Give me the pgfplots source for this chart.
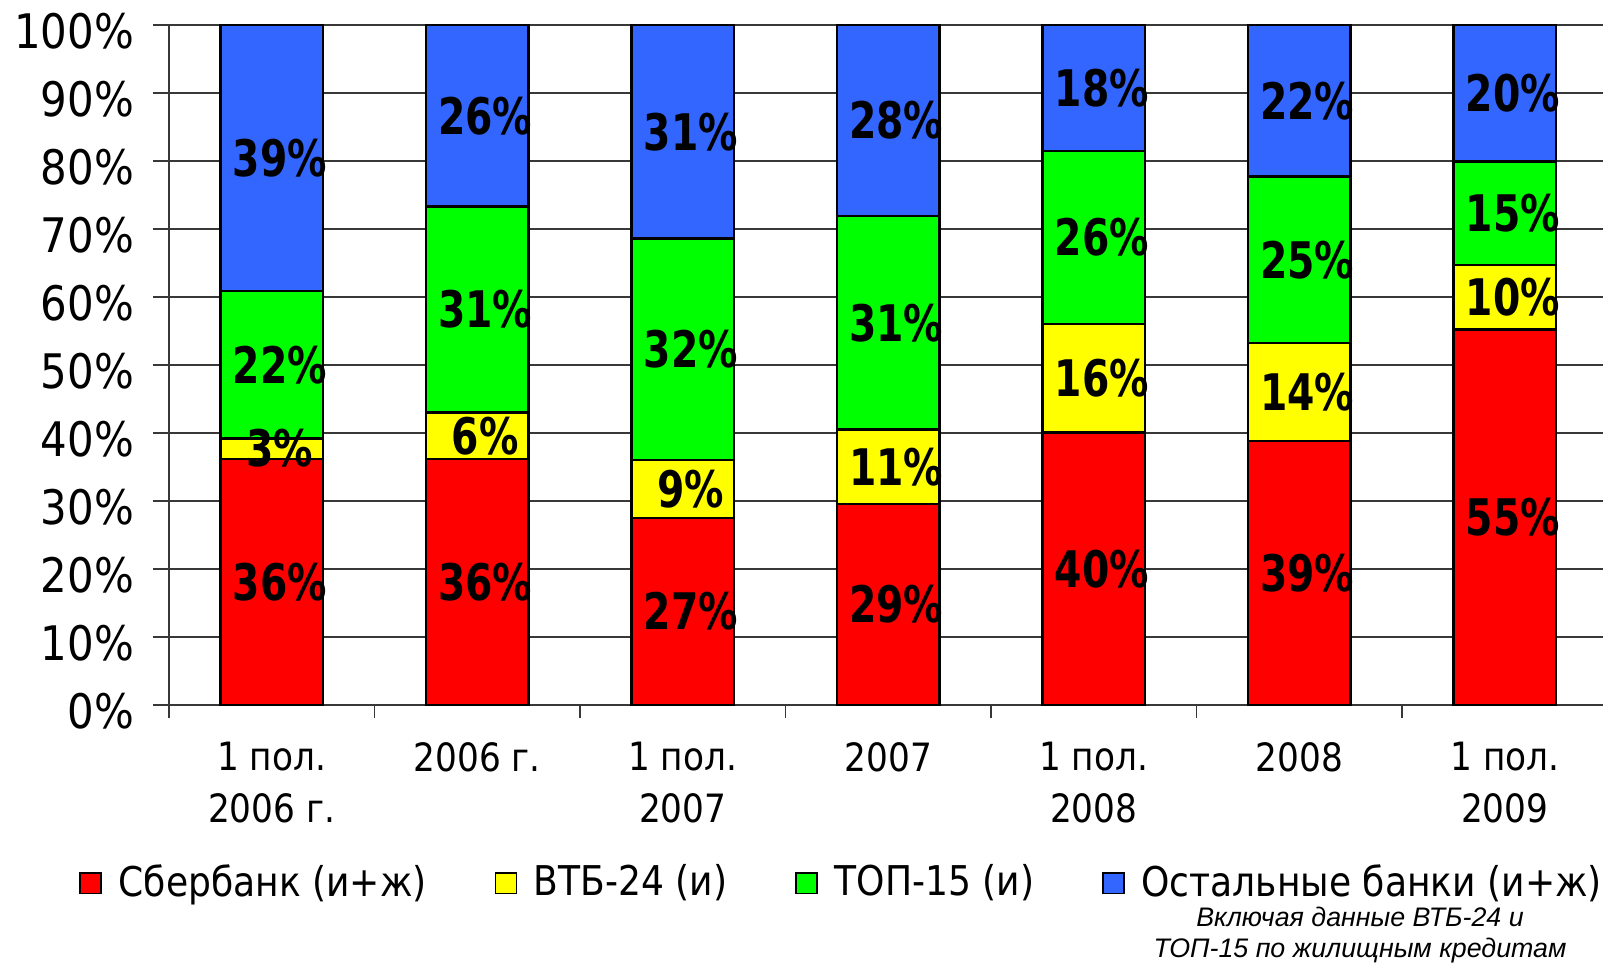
\documentclass[border=0pt]{standalone}
\usepackage{fontspec}
\setmainfont{DejaVu Sans}[FakeStretch=0.88]
\newfontfamily\barfont{DejaVu Sans}[FakeStretch=0.78]
\newfontfamily\notefont{Liberation Sans}
\usepackage{pgfplots}
\pgfplotsset{compat=1.18}
\definecolor{sber}{HTML}{FF0000}
\definecolor{vtb}{HTML}{FFFF00}
\definecolor{topf}{HTML}{00FF00}
\definecolor{rest}{HTML}{3366FF}
\definecolor{gridc}{HTML}{383838}
% 1 px of the reference = 0.25pt
\pgfplotsset{
  basebox/.style={
    scale only axis, width=358.5pt, height=170pt,
    xmin=-0.5, xmax=6.478, ymin=0, ymax=100,
    at={(42.25pt,-6.25pt)}, anchor=north west,
  },
}

\begin{document}
\begin{tikzpicture}
\begin{axis}[basebox,
  ybar stacked, bar width=0.5,
  axis x line*=bottom, axis y line*=left,
  axis line style={-, gridc, line width=0.4pt},
  ytick={0,10,...,100},
  yticklabels={0\%,10\%,20\%,30\%,40\%,50\%,60\%,70\%,80\%,90\%,100\%},
  ymajorgrids, grid style={gridc, line width=0.35pt},
  xtick={0,...,6},
  xticklabels={{1 пол.\\2006 г.},{2006 г.},{1 пол.\\2007},{2007},{1 пол.\\2008},{2008},{1 пол.\\2009}},
  minor xtick={-0.5,0.5,...,5.5},
  tick align=outside,
  major tick length=4pt, minor tick length=3.25pt,
  tick style={gridc, line width=0.35pt},
  major x tick style={draw=none},
  yticklabel style={font=\fontsize{11.9}{13}\selectfont, xshift=-1.2pt, yshift=-1.5pt},
  xticklabel style={font=\fontsize{9.75}{13}\selectfont, align=center, anchor=north, yshift=-1.8pt},
  legend columns=4,
  legend image code/.code={\draw[#1, draw=black, line width=0.4pt] (0pt,-2.6pt) rectangle (5.2pt,2.6pt);},
  legend style={at={(axis description cs:-0.063,-0.262)}, anchor=west,
    draw=none, fill=none, inner sep=0pt,
    font=\fontsize{10.25}{12}\selectfont,
    /tikz/every odd column/.append style={column sep=2.2pt},
    /tikz/every even column/.append style={column sep=15pt}},
  legend entries={Сбербанк (и+ж), ВТБ-24 (и), ТОП-15 (и), Остальные банки (и+ж)},
]
\addplot[fill=sber, draw=black, line width=0.6pt] coordinates
  {(0,36.2) (1,36.2) (2,27.5) (3,29.6) (4,40.1) (5,38.8) (6,55.2)};
\addplot[fill=vtb, draw=black, line width=0.6pt] coordinates
  {(0,3.0) (1,6.8) (2,8.5) (3,10.9) (4,15.9) (5,14.4) (6,9.5)};
\addplot[fill=topf, draw=black, line width=0.6pt] coordinates
  {(0,21.7) (1,30.3) (2,32.6) (3,31.4) (4,25.5) (5,24.5) (6,15.2)};
\addplot[fill=rest, draw=black, line width=0.6pt] coordinates
  {(0,39.1) (1,26.7) (2,31.4) (3,28.1) (4,18.5) (5,22.3) (6,20.1)};
\end{axis}

% value labels, at the middle of each segment
\begin{axis}[basebox, hide axis]
\addplot[draw=none, mark=none, nodes near coords, point meta=explicit symbolic,
  every node near coord/.append style={anchor=center, text=black, xshift=2pt,
    font=\barfont\bfseries\fontsize{12.6}{13}\selectfont}]
  coordinates {
  (0,18.1)[36\%] (0,37.7)[3\%] (0,50.05)[22\%] (0,80.45)[39\%]
  (1,18.1)[36\%] (1,39.6)[6\%] (1,58.15)[31\%] (1,86.65)[26\%]
  (2,13.75)[27\%] (2,31.75)[9\%] (2,52.3)[32\%] (2,84.3)[31\%]
  (3,14.8)[29\%] (3,35.05)[11\%] (3,56.2)[31\%] (3,85.95)[28\%]
  (4,20.05)[40\%] (4,48.05)[16\%] (4,68.75)[26\%] (4,90.75)[18\%]
  (5,19.4)[39\%] (5,46.0)[14\%] (5,65.45)[25\%] (5,88.85)[22\%]
  (6,27.6)[55\%] (6,59.95)[10\%] (6,72.3)[15\%] (6,89.95)[20\%]
  };
\end{axis}

\node[font=\notefont\itshape\fontsize{6.7}{7.8}\selectfont, align=center]
  at (340pt,-233.8pt) {Включая данные ВТБ-24 и\\ТОП-15 по жилищным кредитам};

\pgfresetboundingbox
\path[use as bounding box] (0,0) rectangle (400.75pt,-240.75pt);
\end{tikzpicture}
\end{document}
